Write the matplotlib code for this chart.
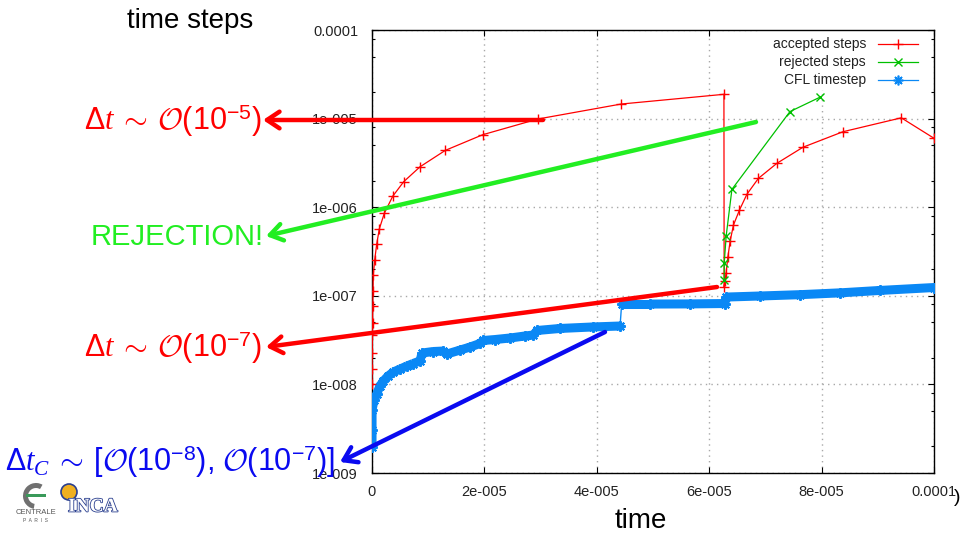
import matplotlib
matplotlib.use('Agg')
import matplotlib.pyplot as plt
import matplotlib.patheffects as pe
from matplotlib.patches import Rectangle, Circle, Wedge

plt.rcParams['font.family'] = ['Liberation Sans', 'DejaVu Sans']
plt.rcParams['mathtext.fontset'] = 'custom'
plt.rcParams['mathtext.rm'] = 'Liberation Sans'
plt.rcParams['mathtext.sf'] = 'Liberation Sans'
plt.rcParams['mathtext.it'] = 'Liberation Serif:italic'
plt.rcParams['mathtext.cal'] = 'cmsy10'

# ---------------- data ----------------
t_acc = [0.0, 0.002e-5, 0.004e-5, 0.007e-5, 0.010e-5, 0.014e-5, 0.018e-5, 0.023e-5,
         0.048e-5, 0.084e-5, 0.13e-5, 0.219e-5, 0.369e-5, 0.564e-5, 0.855e-5, 1.305e-5,
         1.971e-5, 2.95e-5, 4.433e-5, 6.262e-5, 6.266e-5, 6.28e-5, 6.30e-5, 6.333e-5,
         6.373e-5, 6.432e-5, 6.539e-5, 6.671e-5, 6.877e-5, 7.205e-5, 7.668e-5, 8.380e-5,
         9.418e-5, 10.0e-5]
dt_acc = [1.0e-8, 1.49e-8, 2.26e-8, 3.61e-8, 4.93e-8, 7.67e-8, 1.13e-7, 1.72e-7,
          2.54e-7, 3.84e-7, 5.68e-7, 8.54e-7, 1.33e-6, 1.94e-6, 2.86e-6, 4.38e-6,
          6.58e-6, 9.89e-6, 1.46e-5, 1.88e-5, 1.26e-7, 1.47e-7, 1.81e-7, 2.76e-7,
          4.16e-7, 6.30e-7, 9.30e-7, 1.40e-6, 2.12e-6, 3.13e-6, 4.75e-6, 7.11e-6,
          1.02e-5, 6.00e-6]

t_rej = [6.267e-5, 6.267e-5, 6.302e-5, 6.404e-5, 7.437e-5, 7.976e-5]
dt_rej = [1.51e-7, 2.34e-7, 4.73e-7, 1.59e-6, 1.20e-5, 1.75e-5]

t_cfl = [0.0, 0.0005e-5, 0.001e-5, 0.036e-5, 0.084e-5, 0.142e-5, 0.201e-5, 0.285e-5,
         0.379e-5, 0.498e-5, 0.618e-5, 0.730e-5, 0.855e-5, 0.890e-5, 1.086e-5, 1.269e-5,
         1.330e-5, 1.567e-5, 1.745e-5, 1.923e-5, 1.981e-5, 2.190e-5, 2.457e-5, 2.724e-5,
         2.872e-5, 2.938e-5, 3.347e-5, 3.934e-5, 4.414e-5, 4.442e-5, 4.949e-5, 5.661e-5,
         6.275e-5, 6.302e-5, 6.908e-5, 7.620e-5, 8.332e-5, 9.044e-5, 10.0e-5]
dt_cfl = [1.96e-9, 3.05e-9, 5.14e-9, 6.67e-9, 7.80e-9, 9.60e-9, 1.09e-8, 1.24e-8,
          1.38e-8, 1.49e-8, 1.61e-8, 1.72e-8, 1.84e-8, 2.26e-8, 2.35e-8, 2.38e-8,
          2.20e-8, 2.44e-8, 2.64e-8, 2.90e-8, 3.13e-8, 3.21e-8, 3.34e-8, 3.52e-8,
          3.61e-8, 4.06e-8, 4.28e-8, 4.45e-8, 4.56e-8, 8.07e-8, 8.07e-8, 8.10e-8,
          8.18e-8, 9.68e-8, 9.95e-8, 1.03e-7, 1.08e-7, 1.15e-7, 1.24e-7]

x_ticks = [0, 2e-5, 4e-5, 6e-5, 8e-5, 1e-4]
x_labels = ['0', '2e-005', '4e-005', '6e-005', '8e-005', '0.0001']
y_ticks = [1e-9, 1e-8, 1e-7, 1e-6, 1e-5, 1e-4]
y_labels = ['1e-009', '1e-008', '1e-007', '1e-006', '1e-005', '0.0001']
legend_labels = ['accepted steps', 'rejected steps', 'CFL timestep']

C_ACC = '#ff0000'
C_REJ = '#00c000'
C_CFL = '#0a88f5'
STAR = (8, 2, 0)

W, H = 962, 534
fig = plt.figure(figsize=(W / 100, H / 100), dpi=100)
L, R, T, B = 372, 934, 30, 473
ax = fig.add_axes([L / W, 1 - B / H, (R - L) / W, (B - T) / H])
ax.set_yscale('log')
ax.set_xlim(0, 1e-4)
ax.set_ylim(1e-9, 1e-4)

# series
ax.plot(t_acc, dt_acc, color=C_ACC, lw=0.9, marker='+', ms=7, mew=1.0, zorder=3)
ax.plot(t_rej, dt_rej, color=C_REJ, lw=0.9, marker='x', ms=5.5, mew=1.0, zorder=3)
for i in range(len(t_cfl) - 1):
    ratio = dt_cfl[i + 1] / dt_cfl[i]
    jump = ratio > 1.6 and (t_cfl[i + 1] - t_cfl[i]) > 1e-7
    ax.plot(t_cfl[i:i + 2], dt_cfl[i:i + 2], color=C_CFL,
            lw=1.0 if jump else 6.5, solid_capstyle='butt', zorder=4)
ax.plot(t_cfl, dt_cfl, ls='none', color=C_CFL, marker=STAR, ms=7.5, mew=1.5, zorder=4)

# axes styling
ax.set_xticks(x_ticks)
ax.set_xticklabels(x_labels)
ax.set_yticks(y_ticks)
ax.set_yticklabels(y_labels)
minors = [m * 10.0 ** e for e in range(-9, -4) for m in (2, 5, 8)]
ax.set_yticks(minors, minor=True)
ax.set_yticklabels([], minor=True)
ax.tick_params(which='both', direction='in', top=True, right=True, color='black',
               labelsize=10.5, labelcolor='#222222', width=0.8)
ax.tick_params(which='major', length=4.5)
ax.tick_params(which='minor', length=2.5)
ax.tick_params(axis='y', pad=10)
ax.tick_params(axis='x', pad=9)
ax.grid(True, which='major', color='#a8a8a8', ls=(0, (1, 3)), lw=1.0)
ax.set_axisbelow(True)
for s in ax.spines.values():
    s.set_linewidth(1.0)
    s.set_color('black')

# opaque key area
ax.add_patch(Rectangle((0.69, 0.865), 0.295, 0.135, transform=ax.transAxes,
                       facecolor='white', edgecolor='none', zorder=1))
ky = [0.968, 0.928, 0.887]
styles = [dict(color=C_ACC, marker='+', ms=7, mew=1.0),
          dict(color=C_REJ, marker='x', ms=5.5, mew=1.0),
          dict(color=C_CFL, marker=STAR, ms=7, mew=1.2)]
for lab, yy, st in zip(legend_labels, ky, styles):
    ax.text(0.879, yy, lab, transform=ax.transAxes, ha='right', va='center',
            fontsize=10, color='#222222', zorder=5)
    ax.plot([0.900, 0.972], [yy, yy], transform=ax.transAxes, lw=0.9,
            color=st['color'], clip_on=False, zorder=5)
    ax.plot([0.936], [yy], transform=ax.transAxes, ls='none', clip_on=False, zorder=5,
            **st)

# ---------------- slide overlay ----------------
ov = fig.add_axes([0, 0, 1, 1], zorder=10)
ov.set_xlim(0, W)
ov.set_ylim(H, 0)
ov.axis('off')
ov.patch.set_alpha(0)

ov.text(190, 21, 'time steps', ha='center', va='center', fontsize=20, color='black')
ov.text(641, 521, 'time', ha='center', va='center', fontsize=20, color='black')
ov.text(960, 497, ')', ha='right', va='center', fontsize=14, color='black')

RED = '#ff0000'
GRN = '#22ee22'
BLU = '#0a0af0'


def arrow(tail, head, col):
    ov.annotate('', xy=head, xytext=tail,
                arrowprops=dict(arrowstyle='->,head_length=0.45,head_width=0.3',
                                lw=3.2, color=col, shrinkA=0, shrinkB=0,
                                mutation_scale=20))


arrow((543, 120), (263, 120), RED)
arrow((756, 122), (266, 236), GRN)
arrow((717, 287), (266, 347), RED)
arrow((605, 332), (340, 462), BLU)

ov.text(262, 130, r'$\Delta t\;\sim\;\mathcal{O}(10^{-5})$', ha='right', va='baseline',
        fontsize=22, color=RED)
ov.text(264, 245, 'REJECTION!', ha='right', va='baseline', fontsize=21, color=GRN)
ov.text(262, 357, r'$\Delta t\;\sim\;\mathcal{O}(10^{-7})$', ha='right', va='baseline',
        fontsize=22, color=RED)
ov.text(5, 471, r'$\Delta t_C\;\sim\;[\mathcal{O}(10^{-8}),\,\mathcal{O}(10^{-7})]$',
        ha='left', va='baseline', fontsize=22, color=BLU)

# logos (approximate)
ov.add_patch(Wedge((36, 496), 13, 100, 300, width=5, facecolor='#707070', zorder=2))
ov.add_patch(Rectangle((26, 494), 20, 3, facecolor='#3a9a5a', zorder=2))
ov.text(36, 513, 'CENTRALE', ha='center', va='center', fontsize=5.5, color='#555555')
ov.text(36, 520, 'P  A  R  I  S', ha='center', va='center', fontsize=3.5, color='#555555')
ov.add_patch(Circle((69, 492), 8, facecolor='#f0b020', edgecolor='#2a3f8f', lw=1.2, zorder=2))
ov.text(93, 507, 'INCA', ha='center', va='center', fontsize=14, family='Liberation Serif',
        color='white', fontweight='bold',
        path_effects=[pe.withStroke(linewidth=1.2, foreground='#2a3f8f')])

fig.savefig('out.png', dpi=100)
